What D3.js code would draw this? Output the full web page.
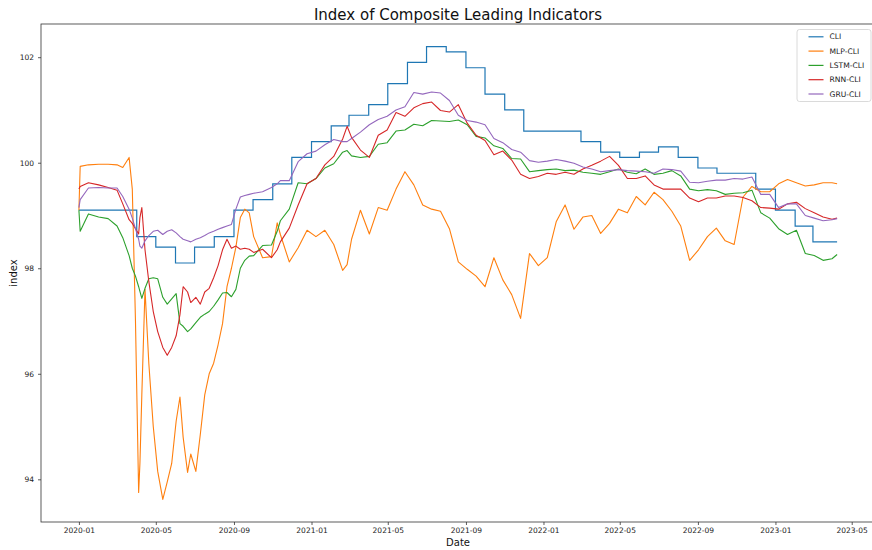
<!DOCTYPE html>
<html>
<head>
<meta charset="utf-8">
<script src="https://d3js.org/d3.v7.min.js"></script>
<style>
  body { margin: 0; background: #fff; }
  svg { display: block; font-family: "DejaVu Sans", sans-serif; }
</style>
</head>
<body>
<svg id="chart" width="872" height="550"></svg>
<script>
// --------------------------------------------------------------------------------//
// DATA ---------------------------------------------------------------------------//
// --------------------------------------------------------------------------------//

var dates = ["2020-01-01","2020-01-03","2020-01-16","2020-02-01","2020-02-16","2020-03-01","2020-03-10","2020-03-20","2020-03-25","2020-03-30",
    "2020-04-04","2020-04-06","2020-04-09","2020-04-14","2020-04-20","2020-04-27","2020-05-04","2020-05-12","2020-05-19","2020-05-26",
    "2020-06-02","2020-06-08","2020-06-13","2020-06-20","2020-06-25","2020-07-03","2020-07-10","2020-07-17","2020-07-24","2020-07-31",
    "2020-08-07","2020-08-14","2020-08-21","2020-08-28","2020-09-04","2020-09-11","2020-09-18","2020-09-25","2020-10-02","2020-10-16",
    "2020-10-30","2020-11-08","2020-11-13","2020-11-27","2020-12-11","2020-12-25","2021-01-08","2021-01-22","2021-02-05","2021-02-19",
    "2021-02-26","2021-03-05","2021-03-19","2021-04-02","2021-04-16","2021-04-30","2021-05-14","2021-05-28","2021-06-11","2021-06-25",
    "2021-07-09","2021-07-23","2021-08-06","2021-08-20","2021-09-03","2021-09-17","2021-10-01","2021-10-15","2021-10-29","2021-11-12",
    "2021-11-26","2021-12-10","2021-12-24","2022-01-07","2022-01-21","2022-02-04","2022-02-18","2022-03-04","2022-03-18","2022-04-01",
    "2022-04-15","2022-04-29","2022-05-13","2022-05-27","2022-06-10","2022-06-24","2022-07-08","2022-07-22","2022-08-05","2022-08-19",
    "2022-09-02","2022-09-16","2022-09-30","2022-10-14","2022-10-28","2022-11-11","2022-11-25","2022-12-09","2022-12-23","2023-01-06",
    "2023-01-20","2023-02-03","2023-02-17","2023-03-03","2023-03-17","2023-03-31","2023-04-08"];

var mlp = [99.1, 99.93, 99.96, 99.97, 99.97, 99.96, 99.91, 100.1, 99.5, 97.0,
    93.75, 94.3, 95.6, 97.6, 96.2, 95.0, 94.15, 93.62, 93.95, 94.3,
    95.1, 95.56, 94.8, 94.13, 94.48, 94.15, 94.85, 95.6, 96.0, 96.2,
    96.55, 96.95, 97.65, 98.0, 98.4, 98.96, 99.12, 99.05, 98.6, 98.2,
    98.22, 98.86, 98.64, 98.12, 98.39, 98.72, 98.6, 98.72, 98.45, 97.96,
    98.07, 98.55, 99.1, 98.65, 99.15, 99.1, 99.5, 99.83, 99.58, 99.2,
    99.12, 99.08, 98.75, 98.12, 97.98, 97.85, 97.65, 98.2, 97.78, 97.5,
    97.05, 98.28, 98.05, 98.2, 98.88, 99.2, 98.74, 98.97, 99.0, 98.66,
    98.85, 99.12, 99.05, 99.36, 99.2, 99.44, 99.3, 99.08, 98.8, 98.15,
    98.35, 98.6, 98.76, 98.52, 98.45, 99.35, 99.55, 99.45, 99.45, 99.6,
    99.68, 99.62, 99.56, 99.58, 99.62, 99.62, 99.6];

var lstm = [99.1, 98.7, 99.03, 98.97, 98.94, 98.8, 98.58, 98.24, 98.0, 97.85,
    97.65, 97.56, 97.43, 97.62, 97.8, 97.82, 97.8, 97.45, 97.32, 97.42,
    97.52, 96.95, 96.9, 96.8, 96.85, 96.97, 97.07, 97.13, 97.18, 97.28,
    97.4, 97.53, 97.54, 97.46, 97.6, 98.0, 98.15, 98.23, 98.24, 98.43,
    98.44, 98.7, 98.9, 99.12, 99.62, 99.6, 99.7, 99.9, 99.98, 100.2,
    100.23, 100.13, 100.1, 100.12, 100.35, 100.38, 100.6, 100.62, 100.73, 100.7,
    100.8, 100.79, 100.78, 100.81, 100.72, 100.5, 100.47, 100.32, 100.27, 100.08,
    100.07, 99.83, 99.85, 99.87, 99.88, 99.85, 99.86, 99.82, 99.8, 99.78,
    99.83, 99.88, 99.82, 99.79, 99.88, 99.78, 99.8, 99.85, 99.75, 99.5,
    99.47, 99.49, 99.47, 99.4, 99.42, 99.43, 99.48, 99.05, 98.95, 98.75,
    98.64, 98.72, 98.28, 98.24, 98.15, 98.18, 98.26];

var rnn = [99.5, 99.55, 99.62, 99.58, 99.53, 99.48, 99.22, 98.92, 98.85, 98.75,
    98.65, 98.96, 99.15, 98.35, 97.75, 97.18, 96.8, 96.5, 96.35, 96.5,
    96.72, 97.12, 97.65, 97.55, 97.35, 97.45, 97.32, 97.55, 97.62, 97.82,
    98.05, 98.35, 98.55, 98.38, 98.42, 98.36, 98.38, 98.36, 98.3, 98.36,
    98.2, 98.35, 98.5, 98.76, 99.2, 99.6, 99.7, 99.96, 100.12, 100.45,
    100.69, 100.48, 100.24, 100.1, 100.52, 100.62, 100.95, 100.88, 101.04, 101.12,
    101.15, 100.99, 100.96, 101.1, 100.75, 100.52, 100.42, 100.15, 100.22, 100.05,
    99.78, 99.7, 99.74, 99.8, 99.78, 99.82, 99.78, 99.88, 99.95, 100.03,
    100.12, 99.95, 99.7, 99.7, 99.75, 99.58, 99.5, 99.5, 99.5, 99.33,
    99.26, 99.33, 99.33, 99.37, 99.37, 99.34, 99.28, 99.15, 99.14, 99.12,
    99.22, 99.25, 99.13, 99.05, 98.97, 98.93, 98.95];

var gru = [99.15, 99.3, 99.52, 99.53, 99.52, 99.52, 99.36, 99.12, 98.95, 98.75,
    98.55, 98.42, 98.38, 98.52, 98.62, 98.7, 98.72, 98.64, 98.7, 98.73,
    98.67, 98.6, 98.55, 98.52, 98.5, 98.55, 98.58, 98.62, 98.67, 98.7,
    98.74, 98.77, 98.8, 98.83, 99.12, 99.35, 99.38, 99.4, 99.42, 99.45,
    99.53, 99.6, 99.66, 99.66, 100.02, 100.17, 100.22, 100.34, 100.44, 100.4,
    100.4, 100.46, 100.58, 100.72, 100.82, 100.88, 101.0, 101.06, 101.33, 101.3,
    101.34, 101.32, 101.18, 100.9, 100.8, 100.77, 100.72, 100.46, 100.38, 100.25,
    100.2, 100.04, 100.01, 100.03, 100.06, 100.03, 99.99, 99.92, 99.88, 99.83,
    99.85, 99.87, 99.85, 99.84, 99.83, 99.8, 99.88, 99.87, 99.84, 99.63,
    99.62, 99.65, 99.67, 99.67, 99.7, 99.69, 99.73, 99.4, 99.4, 99.15,
    99.22, 99.22, 99.0, 98.95, 98.9, 98.92, 98.94];

// CLI is published monthly, drawn as steps
var cliDates = ["2020-01-01","2020-02-01","2020-03-01","2020-04-01","2020-05-01","2020-06-01","2020-07-01","2020-08-01","2020-09-01","2020-10-01","2020-11-01","2020-12-01",
    "2021-01-01","2021-02-01","2021-03-01","2021-04-01","2021-05-01","2021-06-01","2021-07-01","2021-08-01","2021-09-01","2021-10-01","2021-11-01","2021-12-01",
    "2022-01-01","2022-02-01","2022-03-01","2022-04-01","2022-05-01","2022-06-01","2022-07-01","2022-08-01","2022-09-01","2022-10-01","2022-11-01","2022-12-01",
    "2023-01-01","2023-02-01","2023-03-01","2023-04-01","2023-04-08"];

var cli = [99.1, 99.1, 99.1, 98.6, 98.4, 98.1, 98.4, 98.6, 99.1, 99.3, 99.6, 100.1,
    100.4, 100.7, 100.9, 101.1, 101.5, 101.9, 102.2, 102.1, 101.8, 101.3, 101.0, 100.6,
    100.6, 100.6, 100.4, 100.2, 100.1, 100.2, 100.3, 100.1, 99.9, 99.8, 99.8, 99.5,
    99.1, 98.8, 98.5, 98.5, 98.5];

var xTicks = ["2020-01","2020-05","2020-09","2021-01","2021-05","2021-09","2022-01","2022-05","2022-09","2023-01","2023-05"];
var yTicks = [94, 96, 98, 100, 102];

var names = ["CLI", "MLP-CLI", "LSTM-CLI", "RNN-CLI", "GRU-CLI"];
var colors = ["#1f77b4", "#ff7f0e", "#2ca02c", "#d62728", "#9467bd"];

// --------------------------------------------------------------------------------//
// CHART --------------------------------------------------------------------------//
// --------------------------------------------------------------------------------//

var margin = { top: 24, right: -3, bottom: 28, left: 41 },
    width = 872 - margin.left - margin.right,
    height = 550 - margin.top - margin.bottom;

var parseDay = d3.timeParse("%Y-%m-%d");
var parseMonth = d3.timeParse("%Y-%m");

var dayDates = dates.map(parseDay);
var cliDays = cliDates.map(parseDay);

// matplotlib style 5% padding on both axes
var first = dayDates[0], last = dayDates[dayDates.length - 1];
var span = last - first;
var x = d3.scaleTime()
    .domain([new Date(+first - span * 0.05), new Date(+last + span * 0.05)])
    .range([0, width]);

var allValues = [].concat(mlp, lstm, rnn, gru, cli);
var yMin = d3.min(allValues), yMax = d3.max(allValues);
var yPad = (yMax - yMin) * 0.05;
var y = d3.scaleLinear()
    .domain([yMin - yPad, yMax + yPad])
    .range([height, 0]);

var svg = d3.select("#chart");

svg.append("rect")
    .attr("width", 872).attr("height", 550)
    .attr("fill", "#fff");

var g = svg.append("g")
    .attr("transform", "translate(" + margin.left + "," + margin.top + ")");

g.append("clipPath").attr("id", "plotArea")
    .append("rect").attr("width", width).attr("height", height);

// series table
var series = [
    { name: names[1], color: colors[1], points: dayDates.map(function (d, i) { return { date: d, value: mlp[i] }; }) },
    { name: names[2], color: colors[2], points: dayDates.map(function (d, i) { return { date: d, value: lstm[i] }; }) },
    { name: names[3], color: colors[3], points: dayDates.map(function (d, i) { return { date: d, value: rnn[i] }; }) },
    { name: names[4], color: colors[4], points: dayDates.map(function (d, i) { return { date: d, value: gru[i] }; }) }
];
var cliPoints = cliDays.map(function (d, i) { return { date: d, value: cli[i] }; });

var line = d3.line()
    .x(function (d) { return x(d.date); })
    .y(function (d) { return y(d.value); });

var stepLine = d3.line()
    .curve(d3.curveStepAfter)
    .x(function (d) { return x(d.date); })
    .y(function (d) { return y(d.value); });

var plot = g.append("g").attr("clip-path", "url(#plotArea)");

plot.append("path")
    .datum(cliPoints)
    .attr("d", stepLine)
    .attr("fill", "none")
    .attr("stroke", colors[0])
    .attr("stroke-width", 1.2);

plot.selectAll("path.series")
    .data(series)
    .enter()
    .append("path")
    .attr("class", "series")
    .attr("d", function (d) { return line(d.points); })
    .attr("fill", "none")
    .attr("stroke", function (d) { return d.color; })
    .attr("stroke-width", 1.1)
    .attr("stroke-linejoin", "round");

// axes
var xAxis = d3.axisBottom(x)
    .tickValues(xTicks.map(parseMonth))
    .tickFormat(d3.timeFormat("%Y-%m"))
    .tickSize(3)
    .tickPadding(3);

var yAxis = d3.axisLeft(y)
    .tickValues(yTicks)
    .tickFormat(d3.format("d"))
    .tickSize(3)
    .tickPadding(4);

var xg = g.append("g")
    .attr("transform", "translate(0," + height + ")")
    .call(xAxis);
var yg = g.append("g").call(yAxis);

[xg, yg].forEach(function (a) {
    a.attr("font-family", "DejaVu Sans, sans-serif").attr("font-size", 7.5);
    a.select(".domain").remove();
    a.selectAll("line").attr("stroke", "#333").attr("stroke-width", 0.8);
    a.selectAll("text").attr("fill", "#222");
});

// spines
g.append("rect")
    .attr("width", width).attr("height", height)
    .attr("fill", "none")
    .attr("stroke", "#333")
    .attr("stroke-width", 0.8);

// title and labels
svg.append("text")
    .attr("x", margin.left + width / 2)
    .attr("y", 20)
    .attr("text-anchor", "middle")
    .attr("font-size", 15)
    .attr("fill", "#111")
    .text("Index of Composite Leading Indicators");

svg.append("text")
    .attr("x", margin.left + width / 2)
    .attr("y", 546)
    .attr("text-anchor", "middle")
    .attr("font-size", 10)
    .attr("fill", "#111")
    .text("Date");

svg.append("text")
    .attr("transform", "translate(17," + (margin.top + height / 2) + ") rotate(-90)")
    .attr("text-anchor", "middle")
    .attr("font-size", 10)
    .attr("fill", "#111")
    .text("index");

// legend
var legend = svg.append("g").attr("transform", "translate(797,29.5)");

legend.append("rect")
    .attr("width", 74).attr("height", 72)
    .attr("rx", 2.5)
    .attr("fill", "#fff")
    .attr("fill-opacity", 0.8)
    .attr("stroke", "#d0d0d0")
    .attr("stroke-width", 0.8);

var rows = legend.selectAll("g.row")
    .data(names)
    .enter()
    .append("g")
    .attr("class", "row")
    .attr("transform", function (d, i) { return "translate(0," + (7.3 + i * 14.3) + ")"; });

rows.append("line")
    .attr("x1", 11.5).attr("x2", 26.5)
    .attr("stroke", function (d, i) { return colors[i]; })
    .attr("stroke-width", 1.2);

rows.append("text")
    .attr("x", 32.5)
    .attr("dy", "0.35em")
    .attr("font-size", 7.6)
    .attr("fill", "#222")
    .text(function (d) { return d; });
</script>
</body>
</html>
